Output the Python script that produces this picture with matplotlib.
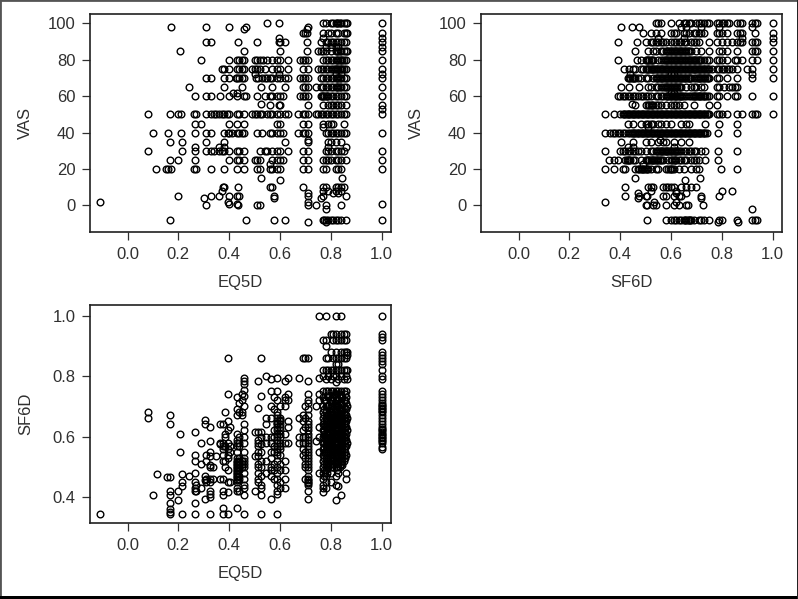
import matplotlib
matplotlib.use("Agg")
import matplotlib.pyplot as plt
from matplotlib.patches import Rectangle

plt.rcParams['font.family'] = ['Liberation Sans', 'DejaVu Sans']

W, H = 798, 599
TEXT = '#303030'

# ---------- panel 1: VAS against EQ5D, one list of EQ5D values per VAS level
eq_100 = [.55,.595,.77,.78,.80,.81,.82,.825,.83,.835,.84,.85,.86,.865,1.0]
eq_98 = [.17,.31,.40,.465,.71]
eq_97 = [.46,.705]
eq_95 = [.69,.70,.705,.77,.79,.80,.82,.83,.85,.86,.865,1.0]
eq_92 = [.595,.77,1.0]
eq_90 = [.31,.33,.435,.51,.595,.60,.62,.705,.76,.78,.79,.80,.81,.82,.83,.84,.85,.86,1.0]
eq_87 = [.78,.80,.82,.83,1.0]
eq_85 = [.205,.46,.60,.705,.75,.76,.77,.78,.80,.82,.825,.83,.835,.84,.85,.86,.865,1.0]
eq_80 = [.29,.40,.43,.44,.45,.46,.50,.51,.52,.535,.55,.57,.59,.60,.63,.68,.69,.70,.71,
         .77,.78,.79,.80,.81,.82,.825,.83,.835,.84,.845,.85,.86,1.0]
eq_75 = [.37,.38,.40,.43,.44,.45,.46,.49,.50,.51,.52,.54,.57,.59,.60,.63,.69,.71,.75,.76,
         .77,.78,.79,.80,.81,.815,.82,.825,.83,.835,.84,.845,.85,.86,1.0]
eq_72 = [.50,.595,.84,.82,1.0]
eq_70 = [.31,.33,.38,.40,.425,.43,.44,.45,.46,.505,.515,.53,.54,.55,.56,.57,.59,.60,.62,.63,
         .68,.69,.70,.71,.76,.77,.78,.79,.80,.81,.82,.825,.83,.835,.84,.85,.86,1.0]
eq_65 = [.24,.38,.45,.525,.57,.62,.69,.70,.71,.74,.76,.77,.78,.79,.80,.81,.82,.825,.83,.835,.84,.85,.86,1.0]
eq_62 = [.415,.43]
eq_60 = [.265,.31,.33,.365,.40,.43,.46,.465,.51,.54,.56,.57,.59,.60,.61,.68,.69,.70,.71,
         .76,.765,.77,.775,.78,.785,.79,.80,.81,.82,.83,.84,.85,.86,1.0]
eq_56 = [.525]
eq_55 = [.56,.595,.60,.71,.77,.79,.80,.81,.82,.83,.84,.86,1.0]
eq_53 = [1.0]
eq_50 = [.08,.165,.20,.21,.26,.27,.31,.33,.34,.35,.36,.37,.38,.39,.40,.43,.44,.46,.49,.50,.51,
         .52,.53,.55,.56,.57,.59,.60,.62,.63,.67,.69,.70,.71,.74,.75,.76,.77,.78,.79,.80,.81,
         .82,.83,.84,.85,.86,1.0]
eq_45 = [.265,.29,.40,.43,.46,.59,.60,.69,.71,.77,.79,.80,.81,.85]
eq_43 = [.77]
eq_40 = [.10,.16,.21,.265,.31,.33,.38,.395,.40,.41,.43,.44,.45,.46,.51,.53,.56,.57,.59,.60,.61,
         .67,.69,.70,.71,.78,.79,.80,.81,.82,.83,.84,.85,.86,1.0]
eq_36 = [.71]
eq_35 = [.165,.215,.31,.38,.62,.71,.79,.80,.82,.84]
eq_32 = [.265,.36,.38,.79,.86]
eq_30 = [.08,.215,.265,.31,.33,.34,.36,.37,.38,.40,.43,.44,.46,.52,.54,.55,.57,.59,.60,.63,
         .69,.71,.78,.79,.80,.82,.83,.84,.85,1.0]
eq_25 = [.165,.20,.265,.40,.43,.44,.46,.50,.51,.52,.57,.59,.60,.61,.69,.71,.77,.78,.79,.80,.82,.83,.84,.86,1.0]
eq_23 = [.56]
eq_20 = [.11,.15,.16,.17,.26,.27,.33,.38,.43,.46,.51,.52,.56,.57,.59,.60,.69,.71,.77,.78,.82,.83,.84,1.0]
eq_15 = [.525,.845]
eq_14 = [.60]
eq_10 = [.375,.38,.435,.56,.57,.69,.77,.78,.82,.83,.84,.85]
eq_8 = [.37,.77,.79,.82,.84]
eq_7 = [.71,.81,.83]
eq_5 = [.20,.33,.36,.40,.43,.44,.575,.71,.77,.86]
eq_4 = [.30,.575,.76]
eq_2 = [-.11,.395,.71]
eq_1 = [.40,.43,1.0]
eq_0 = [.31,.435,.51,.52,.71,.74,.78,.84]
eq_m2 = [.78]
eq_m8 = [.165,.465,.575,.62,.77,.775,.78,.79,.80,.81,.82,.83,.84,.86,1.0]
eq_m9 = [.71,.78]
vas_levels_eq = [100,98,97,95,92,90,87,85,80,75,72,70,65,62,60,56,55,53,50,45,43,40,36,35,32,30,
                 25,23,20,15,14,10,8,7,5,4,2,1,0,-2,-8,-9]
eq_rows = [eq_100,eq_98,eq_97,eq_95,eq_92,eq_90,eq_87,eq_85,eq_80,eq_75,eq_72,eq_70,eq_65,eq_62,
           eq_60,eq_56,eq_55,eq_53,eq_50,eq_45,eq_43,eq_40,eq_36,eq_35,eq_32,eq_30,eq_25,eq_23,
           eq_20,eq_15,eq_14,eq_10,eq_8,eq_7,eq_5,eq_4,eq_2,eq_1,eq_0,eq_m2,eq_m8,eq_m9]

# ---------- panel 2: VAS against SF6D, one list of SF6D values per VAS level
sf_100 = [.54,.55,.56,.60,.63,.65,.66,.67,.68,.70,.71,.72,.73,.74,.75,.78,.79,.80,.81,.82,.83,.86,.87,.88,.92,.93,.94,1.0]
sf_98 = [.405,.445,.475,.64,.66,.72,.79,.92]
sf_95 = [.49,.52,.54,.56,.60,.61,.62,.65,.66,.67,.69,.70,.71,.72,.73,.78,.79,.80,.82,.86,.87,.88,.93,1.0]
sf_92 = [.55,.65,.88,1.0]
sf_90 = [.39,.465,.50,.52,.53,.54,.55,.56,.57,.58,.60,.61,.62,.63,.64,.65,.66,.68,.69,.70,.71,
         .75,.78,.80,.82,.84,.86,.87,.88,.92,.93,.94,1.0]
sf_85 = [.46,.51,.53,.54,.56,.57,.58,.585,.59,.595,.60,.605,.61,.615,.62,.625,.63,.635,.64,.645,.65,.655,
         .66,.665,.67,.68,.70,.72,.75,.79,.80,.82,.86,.92,.93,.94,1.0]
sf_80 = [.39,.465,.48,.50,.505,.51,.515,.52,.525,.53,.55,.56,.57,.575,.58,.585,.59,.595,.60,.605,.61,.615,
         .62,.625,.63,.635,.64,.645,.65,.655,.66,.665,.67,.675,.68,.685,.69,.695,.70,.705,.71,.715,.72,.73,.74,.75,
         .78,.79,.80,.82,.85,.86,.88,.92,.94,1.0]
sf_75 = [.415,.435,.45,.46,.48,.49,.50,.505,.51,.515,.52,.525,.53,.535,.54,.545,.55,.555,.56,.565,.57,.575,
         .58,.585,.59,.595,.60,.605,.61,.615,.62,.625,.63,.635,.64,.645,.65,.655,.66,.665,.67,.675,.68,.685,
         .69,.695,.70,.705,.71,.715,.72,.725,.73,.735,.74,.745,.75,.76,.78,.79,.80,.81,.82,.83,.84,.86,.90,.92,1.0]
sf_72 = [.44,.60,.61,.92]
sf_70 = [.43,.435,.44,.445,.45,.455,.46,.47,.48,.50,.51,.53,.54,.545,.55,.555,.56,.565,.57,.575,.58,.585,.59,
         .595,.60,.605,.61,.615,.62,.625,.63,.635,.64,.645,.65,.655,.66,.665,.67,.675,.68,.69,.70,.705,.71,.715,
         .72,.725,.73,.735,.74,.745,.75,.78,.79,.82,.86,.92,1.0]
sf_65 = [.405,.435,.475,.51,.52,.54,.55,.56,.57,.575,.58,.585,.59,.595,.60,.605,.61,.615,.62,.625,.63,.635,.64,
         .66,.68,.69,.70,.72,.73,.78,.79,.81,.83,.84,.85,.86]
sf_62 = [.60,.61]
sf_60 = [.39,.40,.41,.42,.43,.44,.45,.46,.47,.48,.49,.50,.51,.52,.54,.55,.56,.57,.58,.585,.59,.595,.60,.605,
         .61,.615,.62,.625,.63,.635,.64,.645,.65,.66,.67,.68,.685,.69,.695,.70,.705,.71,.715,.72,.725,.73,.735,
         .74,.75,.78,.79,.82,.85,.86,.92,1.0]
sf_56 = [.445]
sf_55 = [.46,.50,.51,.515,.52,.525,.53,.54,.55,.56,.58,.60,.61,.62,.63,.65,.69,.75,.78]
sf_50 = [.34,.375,.40,.41,.415,.42,.425,.43,.435,.44,.445,.45,.455,.46,.465,.47,.475,.48,.485,.49,.495,.50,.505,
         .51,.515,.52,.525,.53,.535,.54,.545,.55,.555,.56,.565,.57,.575,.58,.585,.59,.595,.60,.605,.61,.615,.62,
         .625,.63,.635,.64,.645,.65,.655,.66,.665,.67,.675,.68,.685,.69,.695,.70,.705,.71,.715,.72,.725,.73,.735,
         .74,.745,.75,.78,.79,.80,.82,.86,.88,.92,.93,.94,1.0]
sf_45 = [.43,.45,.48,.50,.51,.52,.53,.55,.56,.58,.60,.64,.66,.67,.735,.79,.86]
sf_43 = [.51]
sf_40 = [.34,.36,.37,.38,.39,.40,.41,.42,.43,.44,.445,.45,.455,.46,.465,.47,.475,.48,.485,.49,.495,.50,.505,.51,
         .515,.52,.525,.53,.535,.54,.545,.55,.555,.56,.565,.57,.575,.58,.585,.59,.595,.60,.605,.61,.615,.62,.625,
         .63,.635,.64,.645,.65,.655,.66,.665,.67,.675,.68,.685,.69,.695,.70,.705,.71,.715,.72,.725,.73,.735,.74,.785,.86]
sf_36 = [.555]
sf_35 = [.405,.45,.50,.52,.55,.57,.58,.61,.64,.67]
sf_32 = [.43,.45,.61]
sf_30 = [.34,.40,.41,.42,.43,.44,.45,.46,.47,.48,.50,.52,.53,.54,.545,.55,.555,.56,.565,.57,.575,.58,.585,.59,.595,
         .60,.605,.61,.615,.62,.625,.63,.64,.65,.66,.67,.68,.69,.70,.72,.735,.785,.86]
sf_25 = [.355,.375,.39,.42,.425,.43,.435,.44,.45,.46,.48,.50,.505,.51,.515,.52,.525,.53,.535,.54,.545,.55,.555,.56,
         .57,.59,.60,.605,.61,.615,.62,.63,.64,.65,.66,.68,.69,.70,.71,.735,.785]
sf_23 = [.49]
sf_20 = [.34,.375,.41,.42,.46,.47,.475,.48,.485,.49,.495,.50,.505,.51,.52,.54,.55,.58,.59,.595,.60,.605,.61,.63,.65,.68,.70,.71,.795,.86]
sf_15 = [.46,.715]
sf_14 = [.655]
sf_10 = [.42,.51,.52,.53,.57,.58,.59,.60,.61,.64,.66,.68,.70]
sf_8 = [.52,.62,.80,.84]
sf_7 = [.47,.62,.66]
sf_5 = [.42,.475,.50,.505,.57,.58,.61,.63,.64,.72,.79]
sf_4 = [.47,.72]
sf_2 = [.34,.535,.62]
sf_0 = [.50,.505,.53,.54,.58,.61,.63,.66,.665,.725]
sf_m2 = [.92]
sf_m8 = [.505,.58,.60,.61,.62,.63,.64,.65,.655,.66,.665,.67,.675,.68,.69,.71,.72,.73,.75,.79,.80,.86,.92,.93,.94]
sf_m9 = [.785,.865]
vas_levels_sf = [100,98,95,92,90,85,80,75,72,70,65,62,60,56,55,50,45,43,40,36,35,32,30,25,23,20,
                 15,14,10,8,7,5,4,2,0,-2,-8,-9]
sf_rows = [sf_100,sf_98,sf_95,sf_92,sf_90,sf_85,sf_80,sf_75,sf_72,sf_70,sf_65,sf_62,sf_60,sf_56,
           sf_55,sf_50,sf_45,sf_43,sf_40,sf_36,sf_35,sf_32,sf_30,sf_25,sf_23,sf_20,sf_15,sf_14,
           sf_10,sf_8,sf_7,sf_5,sf_4,sf_2,sf_0,sf_m2,sf_m8,sf_m9]

# ---------- panel 3: SF6D against EQ5D, one list of SF6D values per EQ5D value
eq_cols = [-.11,.08,.10,.115,.155,.165,.20,.205,.215,.24,.265,.27,.29,.305,.31,.325,.335,.35,.365,
           .375,.385,.395,.405,.43,.44,.45,.46,.50,.515,.525,.545,.565,.575,.59,.60,.62,.63,.675,
           .69,.70,.71,.74,.755,.77,.78,.79,.80,.81,.82,.83,.84,.85,.86,.865,1.0,
           .775,.785,.795,.805,.815,.825,.835,.845,.855]
c01 = [.345]
c02 = [.68,.66]
c03 = [.405]
c04 = [.475]
c05 = [.465]
c06 = [.67,.64,.465,.42,.405,.38,.36,.35,.345]
c07 = [.42,.39]
c08 = [.61,.55]
c09 = [.475,.45,.435,.345]
c10 = [.47]
c11 = [.615,.54,.52,.48,.45,.43,.42,.38,.345]
c12 = [.44,.42]
c13 = [.58,.51,.43]
c14 = [.655,.64,.47,.455,.395]
c15 = [.54,.52,.46,.45]
c16 = [.63,.585,.55,.535,.505,.50,.46,.45,.42,.41,.40,.345]
c17 = [.50,.46]
c18 = [.535]
c19 = [.64,.58,.575,.46]
c20 = [.64,.58,.57,.56,.54,.52,.46,.42,.405,.365,.345]
c21 = [.68,.61,.60,.57,.52,.50]
c22 = [.86,.74,.65,.62,.58,.56,.54,.53,.49,.45,.415,.345]
c23 = [.63,.57,.55,.45]
c24 = [.73,.69,.67,.61,.59,.58,.57,.55,.53,.52,.515,.51,.505,.50,.495,.49,.485,.48,.475,.47,.465,.46,.455,.45,.43,.42,.365]
c25 = [.71,.68,.60,.58,.57,.53,.52,.515,.51,.505,.50,.495,.49,.47,.46,.42]
c26 = [.74,.72,.68,.67,.52,.51,.50]
c27 = [.795,.785,.775,.755,.735,.70,.64,.62,.60,.58,.55,.53,.52,.51,.50,.48,.46,.44,.43,.405,.345]
c28 = [.615,.535,.42]
c29 = [.785,.695,.615,.59,.58,.57,.55,.535,.51,.50,.48,.46,.45]
c30 = [.86,.735,.615,.60,.575,.55,.52,.50,.47,.44,.43,.405,.345]
c31 = [.80,.66,.64,.60,.58,.52,.48]
c32 = [.79,.75,.70,.66,.60,.58,.55,.53,.50,.49,.47,.395]
c33 = [.73,.69,.62,.60,.57,.55,.51,.49,.46]
c34 = [.795,.75,.72,.68,.67,.66,.65,.645,.64,.63,.62,.61,.60,.59,.58,.57,.56,.55,.54,.52,.50,.48,.46,.44,.42,.41,.345]
c35 = [.70,.66,.655,.65,.64,.63,.62,.61,.60,.58,.57,.56,.54,.51,.49,.45,.43]
c36 = [.785,.73,.72,.70,.61,.58,.52,.49,.46,.43]
c37 = [.795,.74,.72,.65,.63,.58]
c38 = [.795,.66,.60,.58]
c39 = [.86,.67,.65,.62,.60,.58,.56,.54]
c40 = [.86,.70,.66,.63,.60,.58,.55,.53,.51,.50,.46]
c41 = [.86,.785,.74,.72,.71,.69,.67,.65,.64,.63,.62,.61,.60,.59,.58,.57,.56,.55,.54,.53,.52,.51,.50,.49,.47,.46,.455,.45,.445,.44,.42,.395]
c42 = [.70,.585]
c43 = [1.0,.795,.74,.72,.63,.60,.55,.48]
c44 = [.92,.82,.80,.75,.73,.70,.68,.66,.64,.62,.60,.58,.56,.54,.52,.50,.48,.46,.44,.43,.415]
c45 = [1.0,.92,.90,.86,.82,.79,.75,.72,.70,.68,.66,.65,.63,.61,.60,.58,.57,.55,.53,.51,.49,.47,.45,.43]
c46 = [.86,.82,.80,.75,.73,.70,.67,.65,.63,.61,.59,.57,.55,.53,.51,.50]
c47 = [.94,.88,.82,.79,.75,.72,.70,.68,.66,.64,.62,.60,.58,.56,.54,.52,.50,.48,.45]
c48 = [.94,.92,.86,.82,.80,.75,.73,.71,.69,.67,.65,.63,.61,.59,.57,.55,.53,.51]
c49 = [1.0,.94,.92,.88,.86,.84,.82,.80,.78,.75,.73,.71,.70,.68,.66,.65,.63,.61,.60,.58,.56,.54,.52,.50,.47,.44,.39]
c50 = [.92,.86,.84,.82,.79,.75,.72,.70,.68,.66,.64,.62,.60,.58,.56,.54,.52,.50,.48,.435]
c51 = [1.0,.94,.92,.88,.86,.82,.80,.75,.73,.71,.69,.67,.65,.63,.61,.59,.57,.55,.53,.51,.405]
c52 = [.94,.92,.88,.86,.82,.79,.75,.72,.70,.68,.66,.64,.62,.60,.58,.56,.54,.52]
c53 = [.94,.92,.88,.86,.82,.80,.75,.73,.71,.69,.67,.65,.63,.61,.59,.57,.54,.48,.46]
c54 = [.88,.87,.82,.79,.70,.66,.62,.58]
c55 = [1.0,.94,.93,.92,.88,.87,.86,.85,.84,.82,.80,.79,.75,.74,.73,.72,.71,.705,.70,.695,.69,.685,.68,.67,.66,.65,.64,.63,
       .625,.62,.615,.61,.605,.60,.595,.59,.585,.58,.565,.56]
c56 = [.72,.69,.67,.65,.635,.62,.61,.595,.58,.565,.55,.53,.51,.49,.47]
c57 = [.735,.70,.67,.655,.64,.625,.61,.60,.59,.575,.56,.54,.52,.50,.48]
c58 = [.72,.68,.66,.645,.63,.615,.60,.585,.57,.55,.53,.51]
c59 = [.73,.70,.675,.66,.645,.63,.62,.605,.59,.575,.56,.54,.52,.50]
c60 = [.74,.71,.69,.67,.655,.64,.625,.61,.595,.58,.565,.55,.535,.515]
c61 = [.74,.72,.70,.685,.67,.655,.64,.625,.61,.595,.58,.565,.55,.53,.51,.49]
c62 = [.74,.71,.69,.675,.66,.645,.63,.615,.60,.585,.57,.555,.54,.52,.50]
c63 = [.73,.705,.685,.665,.65,.635,.62,.605,.59,.575,.56,.54,.52,.505]
c64 = [.74,.72,.695,.675,.66,.645,.63,.615,.60,.585,.57,.55,.53]
sf_cols = [c01,c02,c03,c04,c05,c06,c07,c08,c09,c10,c11,c12,c13,c14,c15,c16,c17,c18,c19,c20,c21,c22,
           c23,c24,c25,c26,c27,c28,c29,c30,c31,c32,c33,c34,c35,c36,c37,c38,c39,c40,c41,c42,c43,c44,
           c45,c46,c47,c48,c49,c50,c51,c52,c53,c54,c55,c56,c57,c58,c59,c60,c61,c62,c63,c64]

score_ticks = [0.0, 0.2, 0.4, 0.6, 0.8, 1.0]
vas_ticks = [0, 20, 40, 60, 80, 100]
sf_ticks = [0.4, 0.6, 0.8, 1.0]


def make_axes(fig, left, top, right, bottom):
    ax = fig.add_axes([left / W, 1 - bottom / H, (right - left) / W, (bottom - top) / H])
    for s in ax.spines.values():
        s.set_linewidth(1.2)
        s.set_color('#202020')
    ax.tick_params(length=5.5, width=0.9, color='#303030', labelcolor=TEXT, labelsize=12, pad=5)
    return ax


def draw(ax, xs, ys):
    ax.plot(xs, ys, ls='none', marker='o', ms=4.8, mfc='none', mec='black', mew=1.0)


def finish(ax, xlabel, ylabel):
    ax.set_xlim(-0.148, 1.037)
    ax.set_xticks(score_ticks, [f'{t:.1f}' for t in score_ticks])
    ax.set_xlabel(xlabel, fontsize=12, color=TEXT)
    ax.set_ylabel(ylabel, fontsize=12, color=TEXT)
    ax.xaxis.set_label_coords(0.5, -43 / 218)
    ax.yaxis.set_label_coords(-57 / 301, 0.5)


fig = plt.figure(figsize=(W / 100, H / 100), dpi=100, facecolor='white')
fig.add_artist(Rectangle((0, 0), 1, 1, transform=fig.transFigure, fc='none', ec='#555555', lw=2.0))
fig.add_artist(Rectangle((0, 0), 1, 3.5 / H, transform=fig.transFigure, fc='black', ec='none'))
fig.add_artist(Rectangle((1 - 1.5 / W, 0), 1.5 / W, 1, transform=fig.transFigure, fc='#222222', ec='none'))

# panel 1
ax1 = make_axes(fig, 90, 14, 391, 232)
x1, y1 = [], []
for lvl, row in zip(vas_levels_eq, eq_rows):
    x1 += row
    y1 += [lvl] * len(row)
draw(ax1, x1, y1)
ax1.set_ylim(-14.6, 105.2)
ax1.set_yticks(vas_ticks)
finish(ax1, 'EQ5D', 'VAS')

# panel 2
ax2 = make_axes(fig, 481, 14, 782, 232)
x2, y2 = [], []
for lvl, row in zip(vas_levels_sf, sf_rows):
    x2 += row
    y2 += [lvl] * len(row)
draw(ax2, x2, y2)
ax2.set_ylim(-14.6, 105.2)
ax2.set_yticks(vas_ticks)
finish(ax2, 'SF6D', 'VAS')

# panel 3
ax3 = make_axes(fig, 90, 305, 391, 523)
x3, y3 = [], []
for val, col in zip(eq_cols, sf_cols):
    x3 += [val] * len(col)
    y3 += col
draw(ax3, x3, y3)
ax3.set_ylim(0.314, 1.035)
ax3.set_yticks(sf_ticks, [f'{t:.1f}' for t in sf_ticks])
finish(ax3, 'EQ5D', 'SF6D')

fig.savefig('out.png', dpi=100, facecolor='white')
